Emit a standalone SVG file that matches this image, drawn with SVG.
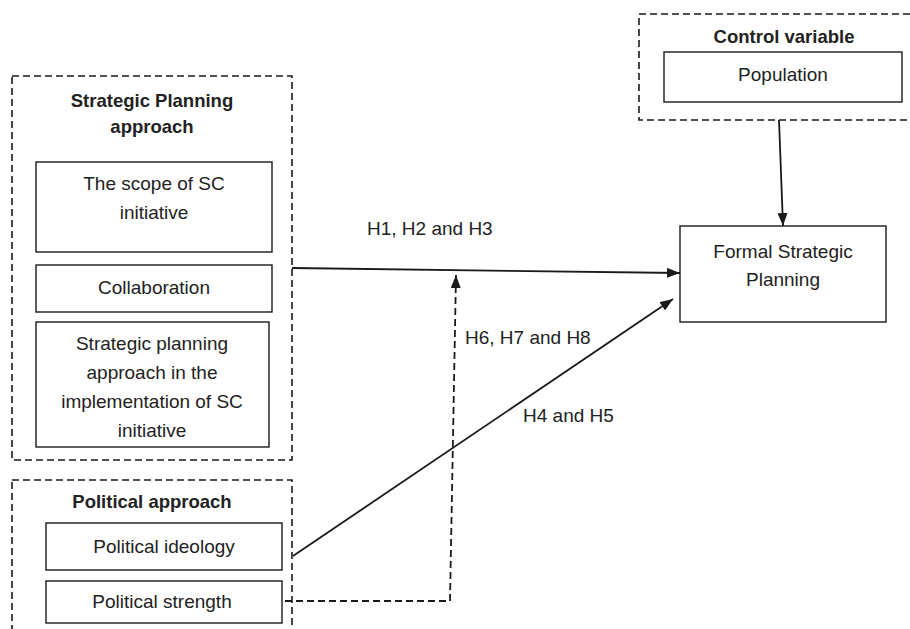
<svg xmlns="http://www.w3.org/2000/svg" width="910" height="629" viewBox="0 0 910 629">
<style>
.grp{fill:none;stroke:#1a1a1a;stroke-width:1.6;stroke-dasharray:7 4}
.box{fill:#fff;stroke:#1a1a1a;stroke-width:1.4}
.t{font-family:"Liberation Sans",Arial,sans-serif;font-size:19px;fill:#222;text-anchor:middle}
.b{font-family:"Liberation Sans",Arial,sans-serif;font-size:18.5px;font-weight:bold;fill:#222;text-anchor:middle}
.lbl{font-family:"Liberation Sans",Arial,sans-serif;font-size:19px;fill:#222}
.ln{fill:none;stroke:#1a1a1a;stroke-width:1.8}
.dl{fill:none;stroke:#1a1a1a;stroke-width:1.8;stroke-dasharray:7 4}
</style>
<defs>
<marker id="ah" viewBox="0 0 13 10" refX="13" refY="5" markerWidth="13" markerHeight="10" markerUnits="userSpaceOnUse" orient="auto">
<path d="M0,0 L13,5 L0,10 z" fill="#1a1a1a"/>
</marker>
</defs>
<rect width="910" height="629" fill="#fff"/>

<g id="strategic-planning-approach">
<rect class="grp" x="12" y="76" width="280" height="384"/>
<text class="b" x="152" y="107">Strategic Planning</text>
<text class="b" x="152" y="133">approach</text>
</g>
<g id="scope">
<rect class="box" x="36" y="162" width="236" height="90"/>
<text class="t" x="154" y="190">The scope of SC</text>
<text class="t" x="154" y="219">initiative</text>
</g>
<g id="collaboration">
<rect class="box" x="36" y="265" width="236" height="47"/>
<text class="t" x="154" y="294">Collaboration</text>
</g>
<g id="sp-implementation">
<rect class="box" x="36" y="322" width="233" height="125"/>
<text class="t" x="152" y="350">Strategic planning</text>
<text class="t" x="152" y="379">approach in the</text>
<text class="t" x="152" y="408">implementation of SC</text>
<text class="t" x="152" y="437">initiative</text>
</g>

<g id="political-approach">
<rect class="grp" x="12" y="480" width="280" height="170"/>
<text class="b" x="152" y="508">Political approach</text>
</g>
<g id="political-ideology">
<rect class="box" x="46" y="523" width="236" height="47"/>
<text class="t" x="164" y="553">Political ideology</text>
</g>
<g id="political-strength">
<rect class="box" x="46" y="581" width="236" height="42"/>
<text class="t" x="162" y="608">Political strength</text>
</g>

<g id="control-variable">
<rect class="grp" x="639" y="14" width="290" height="106"/>
<text class="b" x="784" y="43">Control variable</text>
</g>
<g id="population">
<rect class="box" x="664" y="52" width="238" height="50"/>
<text class="t" x="783" y="81">Population</text>
</g>

<g id="formal-strategic-planning">
<rect class="box" x="680" y="226" width="206" height="96"/>
<text class="t" x="783" y="258">Formal Strategic</text>
<text class="t" x="783" y="286">Planning</text>
</g>

<g id="connectors">
<line class="ln" x1="779" y1="120" x2="783" y2="226" marker-end="url(#ah)"/>
<line class="ln" x1="292" y1="268" x2="680" y2="273" marker-end="url(#ah)"/>
<polyline class="dl" points="285,601 450,601 456,275" marker-end="url(#ah)"/>
<line class="ln" x1="293" y1="556" x2="673" y2="299" marker-end="url(#ah)"/>
<text class="lbl" x="367" y="235">H1, H2 and H3</text>
<text class="lbl" x="465" y="344">H6, H7 and H8</text>
<text class="lbl" x="523" y="422">H4 and H5</text>
</g>
</svg>
